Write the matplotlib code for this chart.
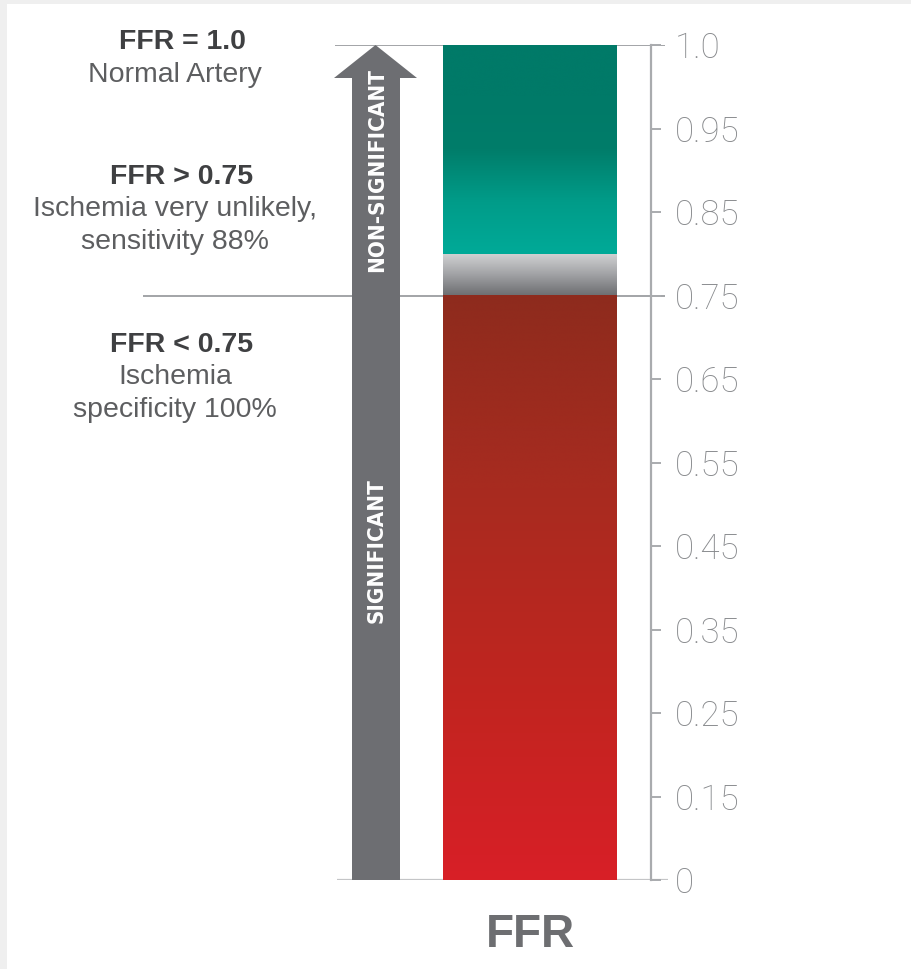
import numpy as np
import matplotlib
matplotlib.use("Agg")
import matplotlib.pyplot as plt
from matplotlib.colors import LinearSegmentedColormap
from matplotlib.patches import Rectangle

# FFR scale (ticks are evenly spaced on the ruler, values are not)
tick_values = [0, 0.15, 0.25, 0.35, 0.45, 0.55, 0.65, 0.75, 0.85, 0.95, 1.0]
tick_labels = ["0", "0.15", "0.25", "0.35", "0.45", "0.55", "0.65", "0.75", "0.85", "0.95", "1.0"]

# zones of the bar: lower, upper value
zone_red = [0.0, 0.75]
zone_grey = [0.75, 0.80]
zone_teal = [0.80, 1.0]
cutoff = 0.75

red_colors = ["#d81f27", "#c0251f", "#a82b20", "#8e2b1d"]
grey_colors = ["#6e6f72", "#a2a3a6", "#d2d3d4"]
teal_colors = ["#00aa98", "#009c89", "#007d6a", "#007a68", "#007a68"]

notes = [
    ("FFR = 1.0", ["Normal Artery"]),
    ("FFR > 0.75", ["Ischemia very unlikely,", "sensitivity 88%"]),
    ("FFR < 0.75", ["Ischemia", "specificity 100%"]),
]
note_y = [42, 177, 345]   # pixel rows of the headings


def pos(v):
    return np.interp(v, tick_values, np.arange(len(tick_values)))


W, H = 912, 969
fig = plt.figure(figsize=(W / 100, H / 100), dpi=100)
fig.patch.set_facecolor("white")
# faint photo edge at left / top
fig.patches.append(Rectangle((0, 0), 7 / W, 1, transform=fig.transFigure,
                             color="#efefef", lw=0, zorder=-5))
fig.patches.append(Rectangle((0, 1 - 4 / H), 1, 4 / H, transform=fig.transFigure,
                             color="#efefef", lw=0, zorder=-5))

y_bot, y_top = 880, 45
px = (y_bot - y_top) / (len(tick_values) - 1)   # pixels per tick step
ax = fig.add_axes([0, (H - y_bot) / H, 1, (y_bot - y_top) / H])
ax.set_facecolor("none")
ax.axis("off")

bar_l, bar_r = 443, 617


def gradient(zone, colors):
    cmap = LinearSegmentedColormap.from_list("g", colors)
    grad = np.linspace(0, 1, 256).reshape(-1, 1)
    ax.imshow(grad, cmap=cmap, aspect="auto", origin="lower",
              extent=[bar_l, bar_r, pos(zone[0]), pos(zone[1])],
              interpolation="bicubic", zorder=2)


gradient(zone_red, red_colors)
gradient(zone_grey, grey_colors)
gradient(zone_teal, teal_colors)

# arrow
arrow_col = "#6d6e72"
hb = pos(1.0) - 33 / px
ax.fill([352, 400, 400, 417, 375.5, 334, 352],
        [pos(0), pos(0), hb, hb, pos(1.0), hb, hb],
        color=arrow_col, lw=0, zorder=3)
ax.text(377, pos(0.90), "NON-SIGNIFICANT", rotation=90, ha="center", va="center",
        color="white", fontsize=16, fontweight="bold", fontstretch="condensed",
        family="DejaVu Sans", zorder=4)
ax.text(377, pos(0.445), "SIGNIFICANT", rotation=90, ha="center", va="center",
        color="white", fontsize=16, fontweight="bold", fontstretch="condensed",
        family="DejaVu Sans", zorder=4)

# reference lines
line_col = "#a2a4a7"
ax.hlines(pos(1.0), 335, 665, color=line_col, lw=1.4, zorder=1)
ax.hlines(pos(cutoff), 143, 665, color=line_col, lw=1.4, zorder=1)
ax.hlines(pos(0), 337, 668, color="#c4c5c7", lw=1.6, zorder=1)

# ruler
ruler = fig.add_axes([640 / W, (H - y_bot) / H, 11 / W, (y_bot - y_top) / H])
ruler.set_facecolor("none")
ruler.set_ylim(0, len(tick_values) - 1)
ruler.set_xticks([])
for s in ["left", "top", "bottom"]:
    ruler.spines[s].set_visible(False)
ruler.spines["right"].set_color("#a9abae")
ruler.spines["right"].set_linewidth(1.6)
ruler.yaxis.tick_right()
ruler.set_yticks(np.arange(len(tick_values)))
ruler.set_yticklabels(tick_labels)
ruler.tick_params(axis="y", direction="out", length=7, width=1.4, color="#a9abae",
                  pad=10, labelsize=25, labelcolor="#87898c")
for lab in ruler.get_yticklabels():
    lab.set_family(["Roboto", "DejaVu Sans"])
    lab.set_fontweight("light")

# notes on the left
txt_x = 180
for (head, lines), yh in zip(notes, note_y):
    ax.text(txt_x + 2, (y_bot - yh) / px, head, ha="center", va="center",
            fontsize=20.5, fontweight="bold", color="#3f4042",
            family="Liberation Sans", clip_on=False)
    for i, ln in enumerate(lines):
        ax.text(txt_x - 5, (y_bot - yh - 32.5 * (i + 1)) / px, ln, ha="center", va="center",
                fontsize=20.5, color="#5d5e60", family="Liberation Sans", clip_on=False)

ax.text(530, (y_bot - 935) / px, "FFR", ha="center", va="center", fontsize=33,
        fontweight="bold", color="#6d6e71", family="Liberation Sans", clip_on=False)

ax.set_xlim(0, W)
ax.set_ylim(0, len(tick_values) - 1)

fig.savefig("out.png", dpi=100)
